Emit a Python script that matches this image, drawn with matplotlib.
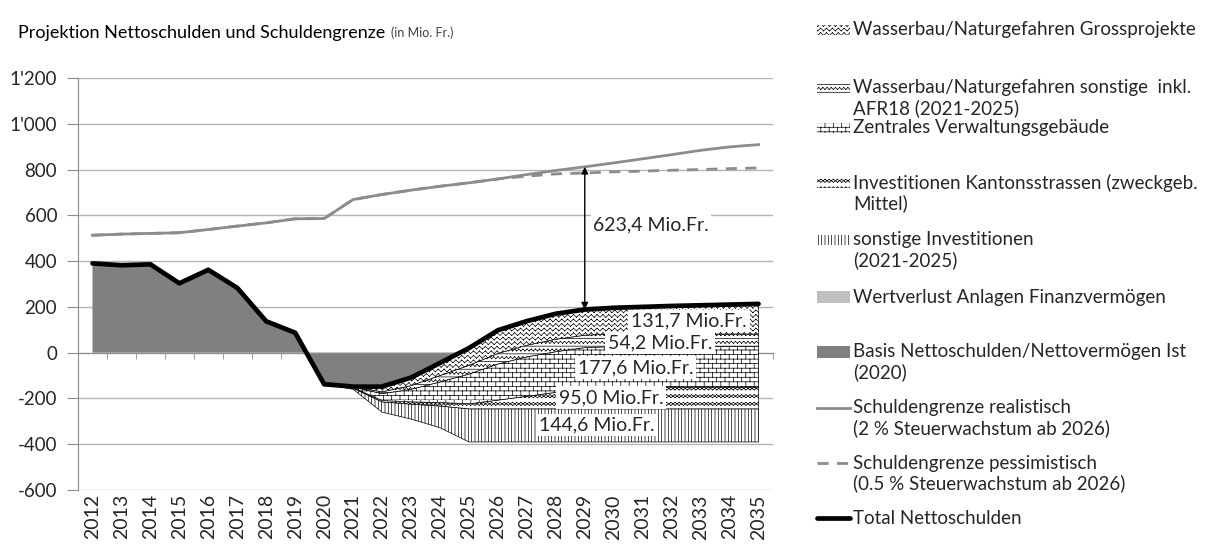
import numpy as np
import matplotlib
matplotlib.use('Agg')
import matplotlib.pyplot as plt
import matplotlib.hatch as mhatch
from matplotlib.path import Path
from matplotlib.patches import Rectangle
from matplotlib.lines import Line2D
from matplotlib.ticker import FuncFormatter

# ---- Daten (Mio. Fr.) ----
years = [2012, 2013, 2014, 2015, 2016, 2017, 2018, 2019, 2020, 2021, 2022, 2023,
         2024, 2025, 2026, 2027, 2028, 2029, 2030, 2031, 2032, 2033, 2034, 2035]
total = [390, 382, 386, 303, 362, 283, 137, 87, -138, -148, -148, -109,
         -45, 20, 98, 138, 170, 188.6, 196, 200, 204, 207, 210, 213.1]
grenze_real = [513, 518, 521, 524, 538, 553, 567, 585, 586, 669, 691, 710,
               727, 742, 759, 778, 796, 812, 829, 847, 865, 884, 899, 909]
grenze_pess = [513, 518, 521, 524, 538, 553, 567, 585, 586, 669, 691, 710,
               727, 742, 759, 771, 781, 785, 790, 793, 797, 800, 804, 807]
basis = [390, 382, 386, 303, 362, 283, 137, 87, -138, -138, -138, -138,
         -138, -138, -138, -138, -138, -138, -138, -138, -138, -138, -138, -138]
# unsichtbare Verschiebung der Stapelbasis (Finanzierung)
versatz = [0, 0, 0, 0, 0, 0, 0, 0, 0, -22, -122, -152,
           -190, -252, -252, -252, -252, -252, -252, -252, -252, -252, -252, -252]
wertverlust = [0, 0, 0, 0, 0, 0, 0, 0, 0, 0, 0, 0,
               0, 0, 0, 0, 0, 0, 0, 0, 0, 0, 0, 0]
sonst_inv = [0, 0, 0, 0, 0, 0, 0, 0, 0, 5, 45, 65,
             95, 144.6, 144.6, 144.6, 144.6, 144.6, 144.6, 144.6, 144.6, 144.6, 144.6, 144.6]
kantonsstr = [0, 0, 0, 0, 0, 0, 0, 0, 0, 2, 6, 10,
              15, 22, 38, 55, 72, 90, 95, 95, 95, 95, 95, 95]
verwaltung = [0, 0, 0, 0, 0, 0, 0, 0, 0, 3, 30, 55,
              90, 130, 158, 172, 177.6, 177.6, 177.6, 177.6, 177.6, 177.6, 177.6, 177.6]
wasser_sonst = [0, 0, 0, 0, 0, 0, 0, 0, 0, 1, 8, 16,
                28, 38, 46, 51, 54.2, 54.2, 54.2, 54.2, 54.2, 54.2, 54.2, 54.2]
wasser_gross = [0, 0, 0, 0, 0, 0, 0, 0, 0, 1, 23, 35,
                55, 75.4, 101.4, 105.4, 111.6, 112.2, 114.6, 118.6, 122.6, 125.6, 128.6, 131.7]


# ---- eigene Schraffuren (Zickzack, Backstein) als einzelne Strecken ----
def zigzag(rows, waves, amp, flip=False, lines=False):
    xs = np.linspace(0, 1, 2 * waves + 1)
    sign = np.where(np.arange(len(xs)) % 2 == 0, -0.5, 0.5) * (-1 if flip else 1)
    segs = []
    for r in range(rows):
        y = (r + 0.5) / rows
        ys = y + amp * sign
        for k in range(len(xs) - 1):
            segs.append(np.array([[xs[k], ys[k]], [xs[k + 1], ys[k + 1]]]))
        if lines:
            segs.append(np.array([[0, r / rows], [1, r / rows]]))
    return segs


def bricks(rows, cols):
    segs = []
    h, w = 1 / rows, 1 / cols
    for r in range(rows):
        y = r * h
        segs.append(np.array([[0, y], [1, y]]))
        off = 0 if r % 2 == 0 else w / 2
        for c in range(cols + 1):
            xx = c * w + off
            if xx <= 1:
                segs.append(np.array([[xx, y], [xx, y + h]]))
    return segs


class TileHatch(mhatch.HatchPatternBase):
    key = ''

    def __init__(self, hatch, density):
        self.segs = self.tile() if self.key in hatch else []
        self.num_vertices = 2 * len(self.segs)

    def set_vertices_and_codes(self, vertices, codes):
        if self.segs:
            vertices[:] = np.concatenate(self.segs)
        codes[0::2] = Path.MOVETO
        codes[1::2] = Path.LINETO


class WaveCoarse(TileHatch):
    key = 'o'
    def tile(self):
        return zigzag(22, 17, 0.028)


class WaveFine(TileHatch):
    key = '.'
    def tile(self):
        return zigzag(13, 24, 0.02, lines=True)


class Brick(TileHatch):
    key = 'O'
    def tile(self):
        return bricks(22, 12)


class Chain(TileHatch):
    key = '*'
    def tile(self):
        return zigzag(13, 12, 0.03) + zigzag(13, 12, 0.03, flip=True)


mhatch._hatch_types = [mhatch.HorizontalHatch, mhatch.VerticalHatch,
                       mhatch.NorthEastHatch, mhatch.SouthEastHatch,
                       WaveCoarse, WaveFine, Brick, Chain]

plt.rcParams['font.family'] = ['Lato', 'DejaVu Sans']
plt.rcParams['hatch.linewidth'] = 0.5
txt = '#262626'
grey_line = '#8c8c8c'

fig, ax = plt.subplots(figsize=(12.08, 5.5), dpi=100)
fig.subplots_adjust(left=78 / 1208, right=773 / 1208, bottom=1 - 490 / 550, top=1 - 78 / 550)

x = np.arange(len(years))

# Basis-Fläche
ax.fill_between(x, 0, basis, facecolor='#808080', lw=0, zorder=2)

# gestapelte Flächen ab 2020
layers = [(wertverlust, '#bfbfbf', None), (sonst_inv, 'white', '|||||'),
          (kantonsstr, 'white', '*'), (verwaltung, 'white', 'O'),
          (wasser_sonst, 'white', '.'), (wasser_gross, 'white', 'o')]
shown = np.array(years) >= 2020
lower = np.array(basis, float) + np.array(versatz, float)
for vals, fc, hatch in layers:
    upper = lower + np.array(vals, float)
    if hatch:
        ax.fill_between(x, lower, upper, where=shown, facecolor=fc, edgecolor='black',
                        hatch=hatch, lw=0.5, zorder=3)
    lower = upper

ax.plot(x, grenze_pess, color=grey_line, lw=2, dashes=(4, 3), zorder=4)
ax.plot(x, grenze_real, color=grey_line, lw=2, zorder=5)
ax.plot(x, total, color='black', lw=3.4, solid_capstyle='round', solid_joinstyle='round', zorder=6)

# Abstand Schuldengrenze – Nettoschulden 2029
i29 = years.index(2029)
ax.annotate('', xy=(i29, grenze_real[i29]), xytext=(i29, total[i29]),
            arrowprops=dict(arrowstyle='<|-|>', color='black', lw=1, mutation_scale=10,
                            shrinkA=0, shrinkB=0), zorder=7)
gap = grenze_real[i29] - total[i29]
ax.text(i29 + 0.28, 558, f'{gap:.1f}'.replace('.', ',') + ' Mio.Fr.', ha='left', va='center',
        fontsize=14, color=txt, zorder=8,
        bbox=dict(boxstyle='square,pad=0.12', fc='white', ec='none'))

# Beschriftung der Endwerte
band_labels = [(wasser_gross, 20.6, 138), (wasser_sonst, 19.6, 42), (verwaltung, 18.75, -66),
               (kantonsstr, 17.9, -196), (sonst_inv, 17.4, -316)]
for vals, bx, by in band_labels:
    ax.text(bx, by, f'{vals[-1]:.1f}'.replace('.', ',') + ' Mio.Fr.', ha='center', va='center',
            fontsize=14, color=txt, zorder=8,
            bbox=dict(boxstyle='square,pad=0.15', fc='white', ec='none'))

# Achsen
ax.set_xlim(-0.5, len(years) - 0.5)
ax.set_ylim(-600, 1200)
ax.set_yticks(np.arange(-600, 1201, 200))
ax.yaxis.set_major_formatter(FuncFormatter(lambda v, p: f'{v:,.0f}'.replace(',', "'")))
ax.tick_params(axis='y', length=8, color=grey_line, labelsize=13.5, labelcolor=txt, pad=7)
ax.yaxis.grid(True, color='#b4b4b4', lw=1)
ax.set_axisbelow(True)
for s in ['top', 'right']:
    ax.spines[s].set_visible(False)
ax.spines['left'].set_color(grey_line)
ax.spines['bottom'].set_position(('data', 0))
ax.spines['bottom'].set_color(grey_line)
ax.set_xticks([])
ax.set_xticks(np.arange(-0.5, len(years)), minor=True)
ax.tick_params(axis='x', which='minor', length=4, color=grey_line, labelbottom=False)

sec = ax.secondary_xaxis('bottom')
sec.set_xticks(x, labels=[str(y) for y in years])
sec.tick_params(axis='x', length=0, labelrotation=90, labelsize=14, labelcolor=txt, pad=3)
sec.spines['bottom'].set_visible(False)

# Titel
t = fig.text(18 / 1208, 1 - 33 / 550, 'Projektion Nettoschulden und Schuldengrenze',
             fontsize=13, color='black', va='center', ha='left')
ax.annotate('(in Mio. Fr.)', xy=(1, 0), xycoords=t, xytext=(4, 1.5), textcoords='offset points',
            fontsize=9, color='#404040', va='bottom', ha='left', annotation_clip=False)

# Legende (manuell, wie Excel-Legende)
legend = [
    (['Wasserbau/Naturgefahren Grossprojekte'], ('patch', 'white', 'o'), 30),
    (['Wasserbau/Naturgefahren sonstige  inkl.', 'AFR18 (2021-2025)'], ('patch', 'white', '.'), 88),
    (['Zentrales Verwaltungsgebäude'], ('patch', 'white', 'O'), 128),
    (['Investitionen Kantonsstrassen (zweckgeb.', 'Mittel)'], ('patch', 'white', '*'), 183),
    (['sonstige Investitionen', '(2021-2025)'], ('patch', 'white', '|||||'), 240),
    (['Wertverlust Anlagen Finanzvermögen'], ('patch', '#bfbfbf', None), 297),
    (['Basis Nettoschulden/Nettovermögen Ist', '(2020)'], ('patch', '#808080', None), 352),
    (['Schuldengrenze realistisch', '(2 % Steuerwachstum ab 2026)'], ('line', grey_line, '-'), 408),
    (['Schuldengrenze pessimistisch', '(0.5 % Steuerwachstum ab 2026)'], ('line', grey_line, '--'), 463),
    (['Total Nettoschulden'], ('line', 'black', 'total'), 518),
]
W, H = 1208, 550
for lines, (kind, col, sty), ypix in legend:
    if kind == 'patch':
        hh = 12 if sty is None else 10
        fig.add_artist(Rectangle((817 / W, 1 - (ypix + hh / 2) / H), 33 / W, hh / H,
                                 transform=fig.transFigure, facecolor=col,
                                 edgecolor='black', lw=0, hatch=sty))
    else:
        kw = dict(color=col, lw=2)
        if sty == '--':
            kw['dashes'] = (4, 3)
        if sty == 'total':
            kw.update(lw=3.4, solid_capstyle='round')
        fig.add_artist(Line2D([817 / W, 850 / W], [1 - ypix / H, 1 - ypix / H],
                              transform=fig.transFigure, **kw))
    for k, line in enumerate(lines):
        fig.text(853 / W, 1 - (ypix + 20 * k) / H, line, fontsize=13.5, color=txt,
                 ha='left', va='center')

fig.savefig('out.png', dpi=100)
